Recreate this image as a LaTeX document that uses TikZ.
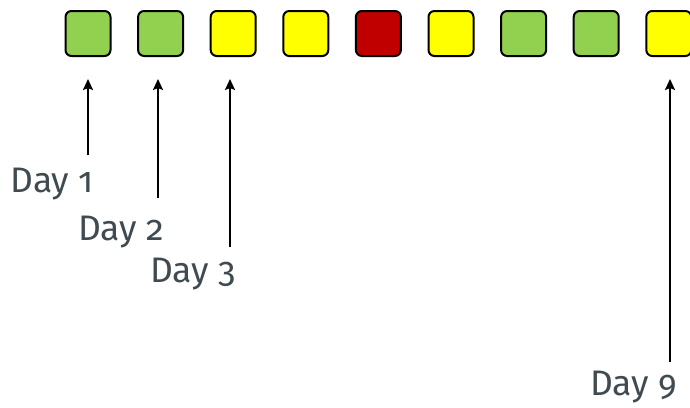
\documentclass[tikz,border=0pt]{standalone}
\usepackage{fontspec}
\setmainfont{Fira Sans}[Numbers=OldStyle]
\usetikzlibrary{arrows.meta}
\definecolor{goodgreen}{HTML}{92D050}
\definecolor{warnyellow}{HTML}{FFFF00}
\definecolor{badred}{HTML}{C00000}
\definecolor{labelgrey}{HTML}{3F4B50}
\tikzset{
  daybox/.style={draw=black, line width=2pt, rounded corners=6pt,
    minimum width=45pt, minimum height=45pt, inner sep=0pt},
  pointer/.style={draw=black, line width=2pt, -{Stealth[length=11pt,width=10pt,inset=2pt]}},
  daylabel/.style={anchor=base east, inner sep=0pt, text=labelgrey,
    font=\fontsize{35.5}{38}\selectfont}
}
\begin{document}
\begin{tikzpicture}[x=1pt,y=-1pt]
\useasboundingbox (0,0) rectangle (690,407);
% row of status boxes
\foreach \i/\c in {1/goodgreen,2/goodgreen,3/warnyellow,4/warnyellow,5/badred,
                   6/warnyellow,7/goodgreen,8/goodgreen,9/warnyellow}{
  \node[daybox, fill=\c] (b\i) at ({88+72.6*(\i-1)},33.5) {};
}
% labels
\node[daylabel] (d1) at (94,192) {Day 1};
\node[daylabel] (d2) at (164,240) {Day 2};
\node[daylabel] (d3) at (236,282) {Day 3};
\node[daylabel] (d9) at (677,395) {Day 9};
% arrow tails above each label
\coordinate (a1) at (88,155);
\coordinate (a2) at (158,198);
\coordinate (a3) at (230,247);
\coordinate (a9) at (670,362);
\foreach \k in {1,2,3,9}{
  \draw[pointer, shorten >=22pt] (a\k) -- (a\k |- b\k.south);
}
\end{tikzpicture}
\end{document}
